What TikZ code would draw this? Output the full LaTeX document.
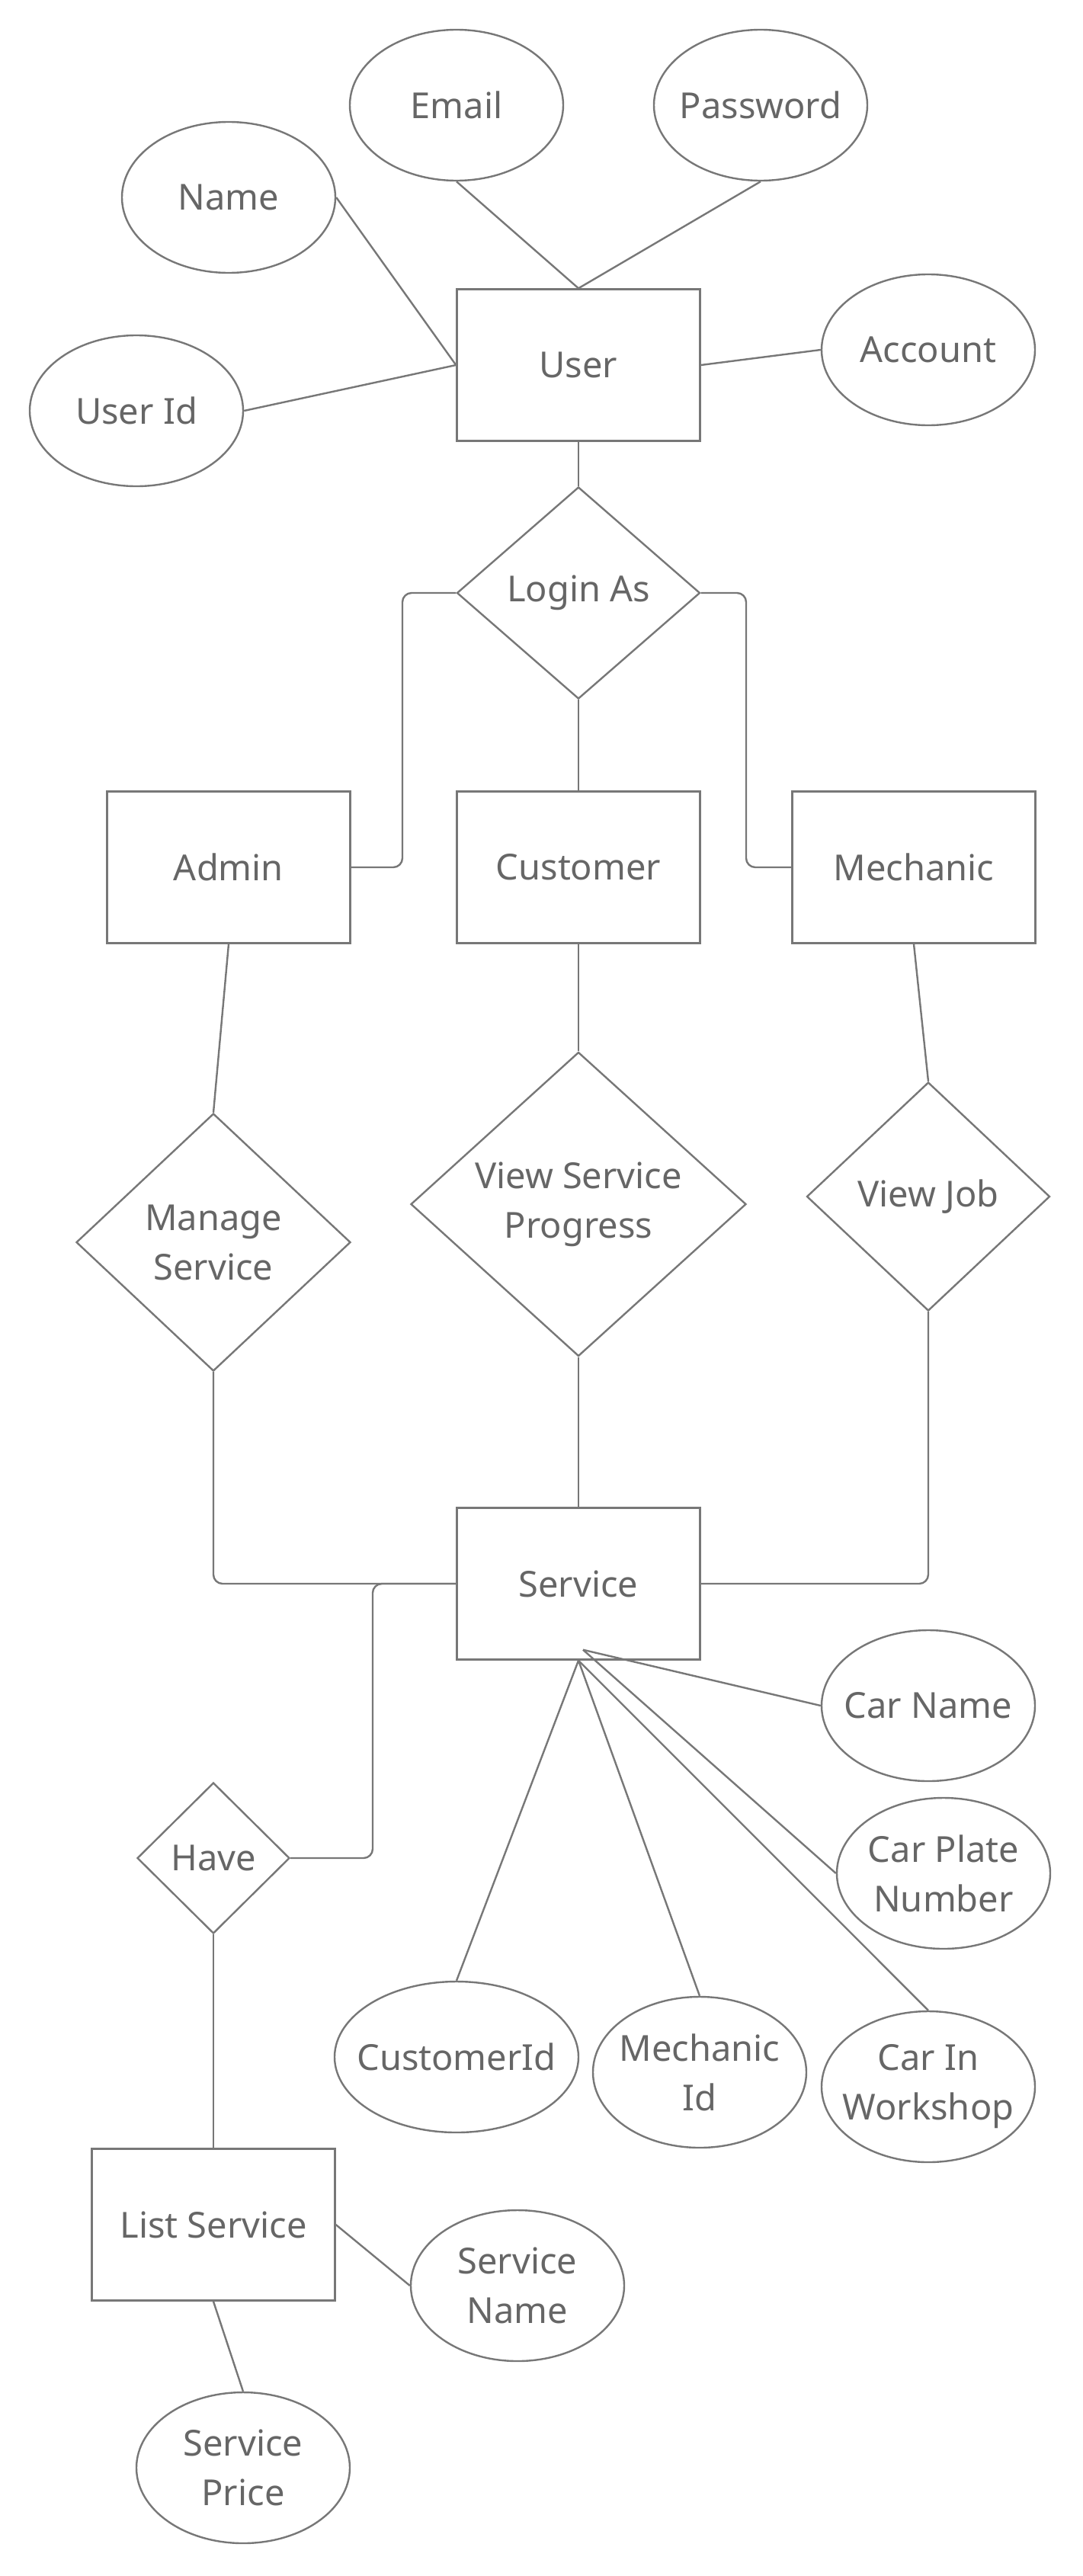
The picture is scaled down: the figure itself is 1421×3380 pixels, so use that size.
\documentclass[tikz,border=0pt]{standalone}
\usepackage{fontspec}
\setmainfont{Noto Sans}
\usetikzlibrary{shapes.geometric}

\definecolor{erline}{HTML}{777777}
\definecolor{ertext}{HTML}{666666}

\begin{document}
\begin{tikzpicture}[x=1pt,y=-1pt,
        every node/.style={font=\fontsize{47}{65}\selectfont,text=ertext,align=center},
        entity/.style={draw=erline,line width=2.4pt,rectangle,minimum width=319pt,minimum height=199pt,inner sep=0pt},
        attrib/.style={draw=erline,line width=2.4pt,ellipse,minimum width=280pt,minimum height=198pt,inner xsep=-40pt,inner ysep=0pt},
        relation/.style={draw=erline,line width=2.4pt,diamond,inner sep=0pt},
        link/.style={draw=erline,line width=2.4pt},
        elbow/.style={link,rounded corners=12pt}]
        \useasboundingbox (0,0) rectangle (1421,3380);

        % Entities
        \node[entity] (user) at (759,479) {User};
        \node[entity] (admin) at (300,1138) {Admin};
        \node[entity] (customer) at (759,1138) {Customer};
        \node[entity] (mechanic) at (1199,1138) {Mechanic};
        \node[entity] (service) at (759,2078) {Service};
        \node[entity] (listsvc) at (280,2919) {List Service};

        % Relationships
        \node[relation,minimum width=319pt,minimum height=278pt] (login) at (759,778) {Login As};
        \node[relation,minimum width=360pt,minimum height=338pt] (manage) at (280,1630) {Manage\\Service};
        \node[relation,minimum width=440pt,minimum height=399pt] (progress) at (759,1580) {View Service\\Progress};
        \node[relation,minimum width=319pt,minimum height=300pt] (viewjob) at (1218,1570) {View Job};
        \node[relation,minimum width=200pt,minimum height=198pt] (have) at (280,2438) {Have};

        % User attributes
        \node[attrib] (email) at (599,138) {Email};
        \node[attrib] (password) at (998,138) {Password};
        \node[attrib] (name) at (300,259) {Name};
        \node[attrib] (userid) at (179,539) {User Id};
        \node[attrib] (account) at (1218,459) {Account};

        % Service attributes
        \node[attrib] (carname) at (1218,2238) {Car Name};
        \node[attrib] (plate) at (1238,2458) {Car Plate\\Number};
        \node[attrib,minimum width=320pt] (custid) at (599,2699) {CustomerId};
        \node[attrib] (mechid) at (918,2719) {Mechanic\\Id};
        \node[attrib] (workshop) at (1218,2738) {Car In\\Workshop};

        % List Service attributes
        \node[attrib] (svcname) at (679,2999) {Service\\Name};
        \node[attrib] (svcprice) at (319,3238) {Service\\Price};

        % User links
        \draw[link] (name.east) -- (user.west);
        \draw[link] (userid.east) -- (user.west);
        \draw[link] (email.south) -- (user.north);
        \draw[link] (password.south) -- (user.north);
        \draw[link] (account.west) -- (user.east);
        \draw[link] (user.south) -- (login.north);

        % Login As to the three roles
        \draw[elbow] (login.west) -- (528,778) -- (528,1138) -- (admin.east);
        \draw[elbow] (login.east) -- (979,778) -- (979,1138) -- (mechanic.west);
        \draw[link] (login.south) -- (customer.north);

        % Roles to their actions
        \draw[link] (admin.south) -- (manage.north);
        \draw[link] (customer.south) -- (progress.north);
        \draw[link] (mechanic.south) -- (viewjob.north);

        % Actions to Service
        \draw[elbow] (manage.south) |- (service.west);
        \draw[link] (progress.south) -- (service.north);
        \draw[elbow] (viewjob.south) |- (service.east);
        \draw[elbow] (have.east) -- (489,2438) -- (489,2078) -- (service.west);

        % Service attributes
        \coordinate (svcfoot) at ([xshift=6pt,yshift=14pt]service.south);
        \draw[link] (svcfoot) -- (carname.west);
        \draw[link] (svcfoot) -- (plate.west);
        \draw[link] (service.south) -- (custid.north);
        \draw[link] (service.south) -- (mechid.north);
        \draw[link] (service.south) -- (workshop.north);

        % List Service
        \draw[link] (have.south) -- (listsvc.north);
        \draw[link] (listsvc.east) -- (svcname.west);
        \draw[link] (listsvc.south) -- (svcprice.north);
\end{tikzpicture}
\end{document}
